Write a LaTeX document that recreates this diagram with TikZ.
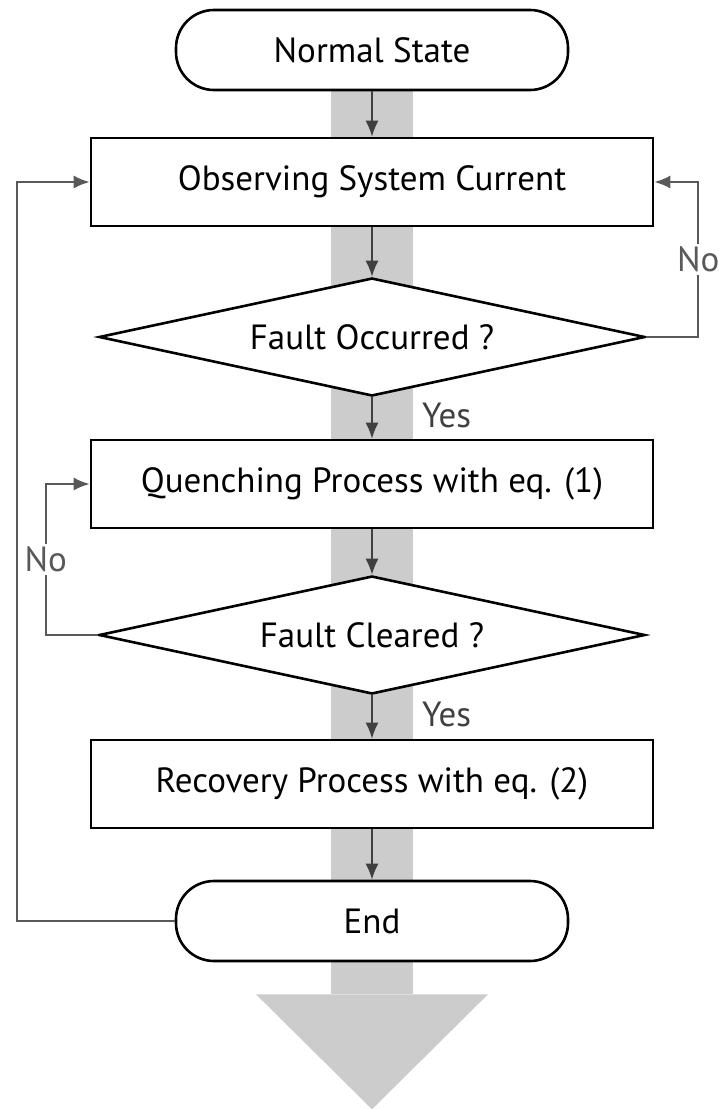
\documentclass[tikz,border=0pt]{standalone}
\usepackage{fontspec}
\setmainfont{PT Sans}
\usetikzlibrary{shapes.geometric, positioning, arrows.meta, backgrounds}

\tikzset{
  terminal/.style={draw, line width=2.6pt, rounded corners=38pt, minimum width=392pt, minimum height=80pt, fill=white},
  process/.style={draw, line width=2.6pt, rectangle, minimum width=562pt, minimum height=88pt, fill=white},
  decision/.style={draw, line width=2.6pt, diamond, aspect=4.7, inner sep=0pt, minimum width=546pt, minimum height=118pt, fill=white},
  flow/.style={-{Latex[length=16pt,width=13pt]}, black!75, line width=1.6pt},
  loopline/.style={-{Latex[length=16pt,width=13pt]}, black!65, line width=2pt},
  band/.style={fill=black!20}
}

\begin{document}
\begin{tikzpicture}[node distance=140pt, on grid, font=\fontsize{35}{40}\selectfont]
    \useasboundingbox (0,0) rectangle (718pt,-1109pt);

      \node[terminal] (normal)  at (372pt,-50pt)            {Normal State};
      \node[process]  (observe) [below=132pt of normal]    {Observing System Current};
      \node[decision] (fault)   [below=155pt of observe]   {Fault Occurred ?};
      \node[process]  (quench)  [below=147pt of fault]     {Quenching Process with eq. (1)};
      \node[decision] (cleared) [below=151pt of quench]    {Fault Cleared ?};
      \node[process]  (recover) [below=149pt of cleared]   {Recovery Process with eq. (2)};
      \node[terminal] (stop)    [below=137pt of recover]   {End};

      \path[flow] (normal) edge (observe)
                  (observe) edge (fault)
                  (fault) edge node[pos=0.45, anchor=west, xshift=46pt] {Yes} (quench)
                  (quench) edge (cleared)
                  (cleared) edge node[pos=0.45, anchor=west, xshift=46pt] {Yes} (recover)
                  (recover) edge (stop);

      \draw[loopline] (fault.east) -- ++(52pt,0) |- node[pos=0.25, fill=white, inner sep=3pt] {No} (observe.east);
      \draw[loopline] (cleared.west) -- ++(-52pt,0) |- node[pos=0.25, fill=white, inner sep=3pt] {No} (quench.west);
      \draw[loopline] (stop.west) -- ++(-158pt,0) |- (observe.west);

    \begin{pgfonlayer}{background}
      \fill[band] ([xshift=-41pt]normal.south) rectangle ([xshift=41pt,yshift=-32pt]stop.south);
      \fill[band] ([xshift=-116pt,yshift=-32pt]stop.south) -- ([xshift=116pt,yshift=-32pt]stop.south)
                  -- ([yshift=-147pt]stop.south) -- cycle;
    \end{pgfonlayer}
    \end{tikzpicture}
\end{document}
